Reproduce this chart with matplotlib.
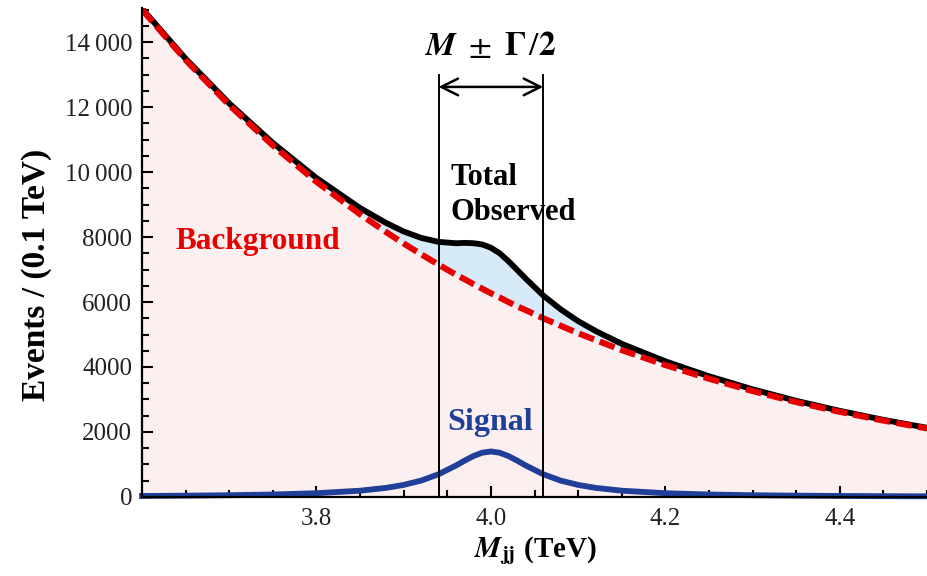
import matplotlib
matplotlib.use("Agg")
import matplotlib.pyplot as plt
from matplotlib.ticker import FixedLocator, MultipleLocator, FuncFormatter

# values
mass = [3.60, 3.65, 3.70, 3.75, 3.80, 3.85, 3.88, 3.90, 3.92, 3.94, 3.96, 3.97,
        3.98, 3.99, 4.00, 4.01, 4.02, 4.03, 4.04, 4.06, 4.08, 4.10, 4.12, 4.15,
        4.20, 4.25, 4.30, 4.35, 4.40, 4.45, 4.50]
background = [15000, 13450, 12060, 10820, 9700, 8700, 8150, 7800, 7470, 7150, 6840, 6700,
              6550, 6410, 6270, 6140, 6000, 5870, 5750, 5500, 5270, 5040, 4830, 4520,
              4060, 3640, 3260, 2920, 2620, 2350, 2110]
signal = [31, 40, 54, 76, 116, 193, 280, 371, 504, 700, 969, 1120,
          1260, 1362, 1400, 1362, 1260, 1120, 969, 700, 504, 371, 280, 193,
          116, 76, 54, 40, 31, 24, 20]
total = [b + s for b, s in zip(background, signal)]

x_ticks = [3.8, 4.0, 4.2, 4.4]
y_ticks = [0, 2000, 4000, 6000, 8000, 10000, 12000, 14000]
window = [3.94, 4.06]   # M - G/2, M + G/2

plt.rcParams['font.family'] = ['Liberation Serif', 'DejaVu Serif']
plt.rcParams['mathtext.fontset'] = 'stix'

red = '#e60000'
blue = '#1f3f99'

fig = plt.figure(figsize=(9.27, 5.76), dpi=100)
ax = fig.add_axes([0.1532, 0.1372, 0.8468, 0.849])

ax.fill_between(mass, 0, background, color='#fcefef', lw=0, zorder=1)
ax.fill_between(mass, background, total, color='#d7eaf7', lw=0, zorder=1)

ax.plot(mass, total, color='black', lw=4.2, zorder=3)
ax.plot(mass, background, color=red, lw=4.4, dashes=(2.6, 1.0), zorder=4)
ax.plot(mass, signal, color=blue, lw=4.2, zorder=3, clip_on=False)

for w in window:
    ax.plot([w, w], [0, 13000], color='black', lw=1.4, zorder=5)
ax.annotate('', xy=(window[0], 12620), xytext=(window[1], 12620),
            arrowprops=dict(arrowstyle='<->', lw=1.8, color='black',
                            mutation_scale=30, shrinkA=0, shrinkB=0))

ax.text(4.0, 13600, r'$\mathbfit{M}\ \pm\ \mathbf{\Gamma}\,/\mathbf{2}$', fontsize=24,
        ha='center', va='baseline')
ax.text(3.638, 7630, 'Background', color=red, fontsize=22.5, fontweight='bold',
        va='baseline')
ax.text(3.954, 9600, 'Total', color='black', fontsize=22, fontweight='bold',
        va='baseline')
ax.text(3.954, 8520, 'Observed', color='black', fontsize=22, fontweight='bold',
        va='baseline')
ax.text(3.95, 2060, 'Signal', color=blue, fontsize=23, fontweight='bold',
        va='baseline')

ax.set_xlim(3.6, 4.5)
ax.set_ylim(0, 15050)

ax.xaxis.set_major_locator(FixedLocator(x_ticks))
ax.xaxis.set_minor_locator(MultipleLocator(0.05))
ax.yaxis.set_major_locator(FixedLocator(y_ticks))
ax.yaxis.set_minor_locator(MultipleLocator(500))


def fmt_y(v, pos):
    v = int(round(v))
    if v >= 10000:
        return f"{v // 1000}\u2009{v % 1000:03d}"
    return str(v)


ax.yaxis.set_major_formatter(FuncFormatter(fmt_y))
ax.xaxis.set_major_formatter(FuncFormatter(lambda v, p: f"{v:.1f}"))

for side in ['top', 'right']:
    ax.spines[side].set_visible(False)
for side in ['left', 'bottom']:
    ax.spines[side].set_linewidth(1.6)
    ax.spines[side].set_zorder(6)

ax.tick_params(which='both', direction='in', width=1.5, labelsize=18,
               labelcolor='#222222')
ax.tick_params(which='major', length=8)
ax.tick_params(which='minor', length=5)
ax.tick_params(axis='x', pad=8)
ax.tick_params(axis='y', pad=7)

fig.text(37 / 927, 1 - 275 / 576, 'Events / (0.1 TeV)', rotation=90,
         fontsize=24, fontweight='bold', ha='center', va='center')
fig.text(535 / 927, 1 - 557 / 576, r'$\mathbfit{M}_{\mathbf{jj}}$ (TeV)',
         fontsize=21, fontweight='bold', ha='center', va='baseline')

fig.savefig('out.png', dpi=100)
